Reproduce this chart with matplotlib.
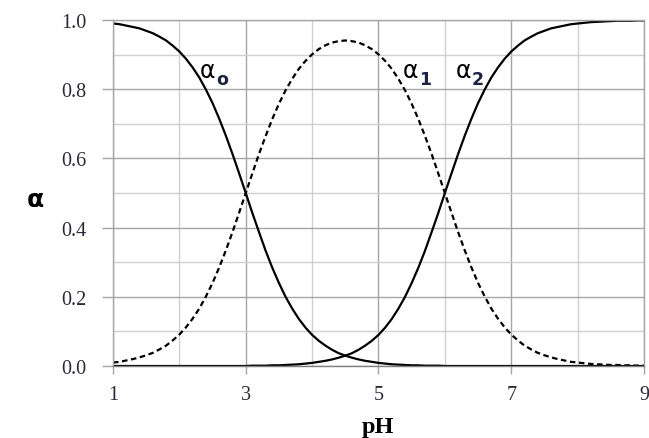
import matplotlib
matplotlib.use("Agg")
import matplotlib.pyplot as plt
from matplotlib.ticker import MultipleLocator

# Werte (Schritt 0.1 pH)
ph = [1.0, 1.1, 1.2, 1.3, 1.4, 1.5, 1.6, 1.7, 1.8, 1.9,
      2.0, 2.1, 2.2, 2.3, 2.4, 2.5, 2.6, 2.7, 2.8, 2.9,
      3.0, 3.1, 3.2, 3.3, 3.4, 3.5, 3.6, 3.7, 3.8, 3.9,
      4.0, 4.1, 4.2, 4.3, 4.4, 4.5, 4.6, 4.7, 4.8, 4.9,
      5.0, 5.1, 5.2, 5.3, 5.4, 5.5, 5.6, 5.7, 5.8, 5.9,
      6.0, 6.1, 6.2, 6.3, 6.4, 6.5, 6.6, 6.7, 6.8, 6.9,
      7.0, 7.1, 7.2, 7.3, 7.4, 7.5, 7.6, 7.7, 7.8, 7.9,
      8.0, 8.1, 8.2, 8.3, 8.4, 8.5, 8.6, 8.7, 8.8, 8.9, 9.0]
alpha0 = [0.990, 0.988, 0.984, 0.980, 0.976, 0.969, 0.962, 0.952, 0.941, 0.926,
          0.909, 0.888, 0.863, 0.834, 0.799, 0.760, 0.715, 0.666, 0.613, 0.557,
          0.500, 0.442, 0.387, 0.333, 0.284, 0.240, 0.200, 0.166, 0.136, 0.111,
          0.090, 0.073, 0.059, 0.047, 0.037, 0.030, 0.024, 0.019, 0.015, 0.012,
          0.009, 0.007, 0.005, 0.004, 0.003, 0.002, 0.002, 0.001, 0.001, 0.001,
          0.000, 0.000, 0.000, 0.000, 0.000, 0.000, 0.000, 0.000, 0.000, 0.000,
          0.000, 0.000, 0.000, 0.000, 0.000, 0.000, 0.000, 0.000, 0.000, 0.000,
          0.000, 0.000, 0.000, 0.000, 0.000, 0.000, 0.000, 0.000, 0.000, 0.000, 0.000]
alpha1 = [0.010, 0.012, 0.016, 0.020, 0.025, 0.031, 0.038, 0.048, 0.059, 0.074,
          0.091, 0.112, 0.137, 0.166, 0.201, 0.240, 0.285, 0.334, 0.387, 0.443,
          0.500, 0.557, 0.613, 0.665, 0.714, 0.758, 0.797, 0.830, 0.859, 0.882,
          0.901, 0.916, 0.927, 0.935, 0.939, 0.941, 0.939, 0.935, 0.927, 0.916,
          0.901, 0.882, 0.859, 0.830, 0.797, 0.758, 0.714, 0.665, 0.613, 0.557,
          0.500, 0.443, 0.387, 0.334, 0.285, 0.240, 0.201, 0.166, 0.137, 0.112,
          0.091, 0.074, 0.059, 0.048, 0.038, 0.031, 0.025, 0.020, 0.016, 0.012,
          0.010, 0.008, 0.006, 0.005, 0.004, 0.003, 0.003, 0.002, 0.002, 0.001, 0.001]
alpha2 = [0.000, 0.000, 0.000, 0.000, 0.000, 0.000, 0.000, 0.000, 0.000, 0.000,
          0.000, 0.000, 0.000, 0.000, 0.000, 0.000, 0.000, 0.000, 0.000, 0.000,
          0.000, 0.001, 0.001, 0.001, 0.002, 0.002, 0.003, 0.004, 0.005, 0.007,
          0.009, 0.012, 0.015, 0.019, 0.024, 0.030, 0.037, 0.047, 0.059, 0.073,
          0.090, 0.111, 0.136, 0.166, 0.200, 0.240, 0.284, 0.333, 0.387, 0.442,
          0.500, 0.557, 0.613, 0.666, 0.715, 0.760, 0.799, 0.834, 0.863, 0.888,
          0.909, 0.926, 0.941, 0.952, 0.962, 0.969, 0.976, 0.980, 0.984, 0.988,
          0.990, 0.992, 0.994, 0.995, 0.996, 0.997, 0.998, 0.998, 0.998, 0.999, 0.999]

x_ticks = [1, 3, 5, 7, 9]
y_ticks = [0.0, 0.2, 0.4, 0.6, 0.8, 1.0]

label_color = "#2a2a38"

fig = plt.figure(figsize=(6.49, 4.39), dpi=100)
ax = fig.add_axes([0.1741, 0.164, 0.8182, 0.788])

ax.plot(ph, alpha0, color="black", lw=1.6)
ax.plot(ph, alpha1, color="black", lw=1.6, linestyle=(0, (2.5, 1.6)))
ax.plot(ph, alpha2, color="black", lw=1.6)

ax.set_xlim(1, 9)
ax.set_ylim(0, 1)
ax.set_xticks(x_ticks)
ax.set_yticks(y_ticks)
ax.set_yticklabels([f"{v:.1f}" for v in y_ticks])
ax.xaxis.set_minor_locator(MultipleLocator(1))
ax.yaxis.set_minor_locator(MultipleLocator(0.1))

# Gitter
ax.grid(which="major", color="#a6a6a6", lw=1.0)
ax.grid(which="minor", color="#d0d0d0", lw=1.0)
ax.set_axisbelow(True)
for s in ax.spines.values():
    s.set_color("#a6a6a6")
    s.set_linewidth(1.0)
ax.spines["bottom"].set_color("#808080")

ax.tick_params(which="minor", length=0)
ax.tick_params(axis="y", which="major", length=8, width=1.0, color="#a6a6a6",
               pad=11, labelsize=14.5, labelcolor=label_color)
ax.tick_params(axis="x", which="major", length=6, width=1.0, color="#a6a6a6",
               pad=8, labelsize=14.5, labelcolor=label_color)
for lab in ax.get_xticklabels() + ax.get_yticklabels():
    lab.set_family("Liberation Serif")

# Achsenbeschriftungen
fig.text(35 / 649, 1 - 200 / 439, "α", fontsize=18, fontweight="bold",
         family="DejaVu Sans", ha="center", va="center", color="black")
fig.text(378 / 649, 1 - 428 / 439, "pH", fontsize=17.5, fontweight="bold",
         family="Liberation Serif", ha="center", va="center", color="black")

# Kurvenbeschriftungen
curve_labels = [("α", "o", 2.31, 0.835), ("α", "1", 5.37, 0.835),
                ("α", "2", 6.16, 0.835)]
for main, sub, xv, yv in curve_labels:
    t = ax.text(xv, yv, main, fontsize=17, family="DejaVu Sans",
                ha="left", va="baseline", color="black")
    fig.canvas.draw()
    bb = t.get_window_extent()
    x_end = ax.transData.inverted().transform((bb.x1 + 1, bb.y0))[0]
    ax.text(x_end, yv - 0.02, sub, fontsize=12.5, fontweight="bold",
            family="DejaVu Sans", ha="left", va="baseline",
            color="#1c2340")

fig.savefig("out.png", dpi=100)
